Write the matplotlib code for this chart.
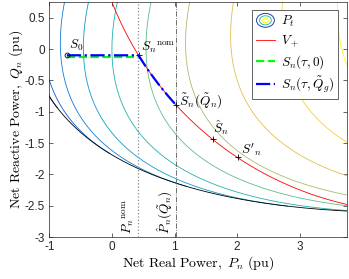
import numpy as np
import matplotlib
matplotlib.use('Agg')
import matplotlib.pyplot as plt
from matplotlib.patches import Ellipse
from matplotlib.legend_handler import HandlerBase
from matplotlib.lines import Line2D
from matplotlib.colors import LinearSegmentedColormap

plt.rcParams['mathtext.fontset'] = 'cm'
plt.rcParams['font.family'] = ['Liberation Sans', 'DejaVu Sans']
plt.rcParams['axes.unicode_minus'] = False

# ---------------- data ----------------
R_LINE = 0.176          # feeder resistance (pu)
X_LINE = 0.0957         # feeder reactance (pu)
V_PLUS = 1.06           # upper voltage limit (pu)
PT_LEVELS = [-2.0, -1.5, -1.0, -0.5, 0.0, 0.5, 1.0, 1.5, 2.0, 2.5]
P_S0, Q_S0 = -0.72, -0.10
P_NOM = 0.42
P_HAT = 1.03
S_HAT = (1.61, -1.44)
S_PRIME = (2.01, -1.72)
XLIM = (-1, 3.75)
YLIM = (-3, 0.75)
XTICKS = [-1, 0, 1, 2, 3]
YTICKS = [-3, -2.5, -2, -1.5, -1, -0.5, 0, 0.5]
YTICKLABELS = ['-3', '-2.5', '-2', '-1.5', '-1', '-0.5', '0', '0.5']

PARULA = [(0.2081, 0.1663, 0.5292), (0.0117, 0.3875, 0.8820),
          (0.0793, 0.5200, 0.8312), (0.0228, 0.6535, 0.7768),
          (0.2178, 0.7250, 0.6193), (0.5709, 0.7485, 0.4494),
          (0.8507, 0.7299, 0.3360), (0.9880, 0.8066, 0.1794),
          (0.9763, 0.9831, 0.0538)]
cmap = LinearSegmentedColormap.from_list('parula', PARULA)

# ---------------- model curves ----------------
z2 = R_LINE**2 + X_LINE**2


def pt_contour(level):
    a = -level
    t_star = (0.5 - R_LINE * a) / X_LINE
    t = np.linspace(-4, t_star, 2000)
    s = a * a + t * t
    return R_LINE * s - a, X_LINE * s - t


a_b = np.linspace(-0.4, 2.6, 2000)
t_b = (0.5 - R_LINE * a_b) / X_LINE
s_b = a_b**2 + t_b**2
P_bound = R_LINE * s_b - a_b
Q_bound = X_LINE * s_b - t_b

v = V_PLUS**2
cx, cy = v * R_LINE / z2, v * X_LINE / z2
rad = np.sqrt(v / z2)
th = np.linspace(np.pi, 1.5 * np.pi, 3000)
P_red = cx + rad * np.cos(th)
Q_red = cy + rad * np.sin(th)
ok = v >= (1 + 2 * (R_LINE * P_red + X_LINE * Q_red)) / 2
P_red, Q_red = P_red[ok], Q_red[ok]

sel = (Q_red <= Q_S0) & (P_red <= P_HAT)
P_path = np.concatenate([[P_S0], P_red[sel]])
Q_path = np.concatenate([[Q_S0], Q_red[sel]])
P_nom_pt, Q_nom_pt = P_red[sel][0], Q_red[sel][0]
P_til, Q_til = P_red[sel][-1], Q_red[sel][-1]

# ---------------- figure ----------------
fig = plt.figure(figsize=(3.49, 2.79), dpi=100)
ax = fig.add_axes([0.1413, 0.1505, 0.852, 0.8423])

lo, hi = min(PT_LEVELS), max(PT_LEVELS)
for L in PT_LEVELS:
    p, q = pt_contour(L)
    ax.plot(p, q, color=cmap((L - lo) / (hi - lo)), lw=0.6, zorder=2)

ax.plot(P_bound, Q_bound, color='k', lw=0.6, zorder=3)
ax.plot(P_red, Q_red, color='r', lw=0.6, zorder=3)
ax.axvline(P_NOM, color='0.55', ls=':', lw=0.9, zorder=3)
ax.axvline(P_HAT, color='0.35', ls='-.', lw=0.6, zorder=3)

ax.plot([P_S0, P_nom_pt], [Q_S0 - 0.02, Q_S0 - 0.02], color=(0, 1, 0),
        ls='--', lw=1.6, zorder=4)
ax.plot(P_path, Q_path, color=(0, 0, 1), ls='-.', lw=1.6, zorder=5)

ax.plot([P_S0], [Q_S0], marker='o', ms=3.5, mfc='none', mec='k', mew=0.6, zorder=6)
ax.plot([P_nom_pt, P_til, S_HAT[0], S_PRIME[0]],
        [Q_nom_pt, Q_til, S_HAT[1], S_PRIME[1]],
        ls='none', marker='+', ms=5, mec='k', mew=0.6, zorder=6)

fs = 9.5
ax.text(P_S0 + 0.04, Q_S0 + 0.04, r'$S_0$', fontsize=fs, ha='left', va='bottom')
ax.text(P_nom_pt + 0.04, Q_nom_pt + 0.0, r'$S_n{}^{\mathrm{nom}}$', fontsize=fs,
        ha='left', va='bottom')
ax.text(P_til + 0.04, Q_til + 0.07, r'$\tilde{S}_n(\tilde{Q}_n)$', fontsize=fs,
        ha='left', va='center')
ax.text(S_HAT[0] + 0.0, S_HAT[1] + 0.03, r'$\hat{S}_n$', fontsize=fs,
        ha='left', va='bottom')
ax.text(S_PRIME[0] + 0.05, S_PRIME[1] - 0.02, r"$S'_n$", fontsize=fs,
        ha='left', va='bottom')
ax.text(P_NOM - 0.03, -2.95, r'$P_n{}^{\mathrm{nom}}$', fontsize=fs,
        rotation=90, ha='right', va='bottom')
ax.text(P_HAT - 0.03, -2.95, r'$\hat{P}_n(\tilde{Q}_n)$', fontsize=fs,
        rotation=90, ha='right', va='bottom')

ax.set_xlim(*XLIM)
ax.set_ylim(*YLIM)
ax.set_xticks(XTICKS)
ax.set_xticklabels([str(t) for t in XTICKS])
ax.set_yticks(YTICKS)
ax.set_yticklabels(YTICKLABELS)
ax.tick_params(direction='in', top=True, right=True, length=3, width=0.5,
               labelsize=8.5, colors='0.15', pad=3)
for sp in ax.spines.values():
    sp.set_linewidth(0.5)
    sp.set_color('0.15')

ax.set_xlabel(r'$\mathrm{Net\ Real\ Power,}\ P_n\ \mathrm{(pu)}$', fontsize=10, labelpad=1)
ax.set_ylabel(r'$\mathrm{Net\ Reactive\ Power,}\ Q_n\ \mathrm{(pu)}$', fontsize=10, labelpad=0)


class HandlerContour(HandlerBase):
    def create_artists(self, legend, orig_handle, xdescent, ydescent, width,
                       height, fontsize, trans):
        cxl = width / 2 - xdescent
        cyl = height / 2 - ydescent
        arts = []
        for frac, col in zip([1.0, 0.66, 0.33], [cmap(0.05), cmap(0.5), cmap(1.0)]):
            e = Ellipse((cxl, cyl), width * 0.9 * frac, height * 1.5 * frac,
                        fill=False, edgecolor=col, lw=0.7, transform=trans)
            arts.append(e)
        return arts


proxy = Line2D([], [])
h_red = Line2D([], [], color='r', lw=0.6)
h_green = Line2D([], [], color=(0, 1, 0), ls='--', lw=1.6)
h_blue = Line2D([], [], color=(0, 0, 1), ls='-.', lw=1.6)
leg = ax.legend([proxy, h_red, h_green, h_blue],
                [r'$P_t$', r'$V_+$', r'$S_n(\tau,0)$', r'$S_n(\tau,\tilde{Q}_g)$'],
                handler_map={proxy: HandlerContour()},
                loc='upper right', bbox_to_anchor=(0.971, 0.966), borderaxespad=0,
                fontsize=9.5, frameon=True, fancybox=False, framealpha=1,
                edgecolor='0.15', handlelength=1.5, handletextpad=0.4,
                labelspacing=0.3, borderpad=0.3)
leg.get_frame().set_linewidth(0.5)
leg.set_zorder(10)

fig.savefig('out.png', dpi=100)
